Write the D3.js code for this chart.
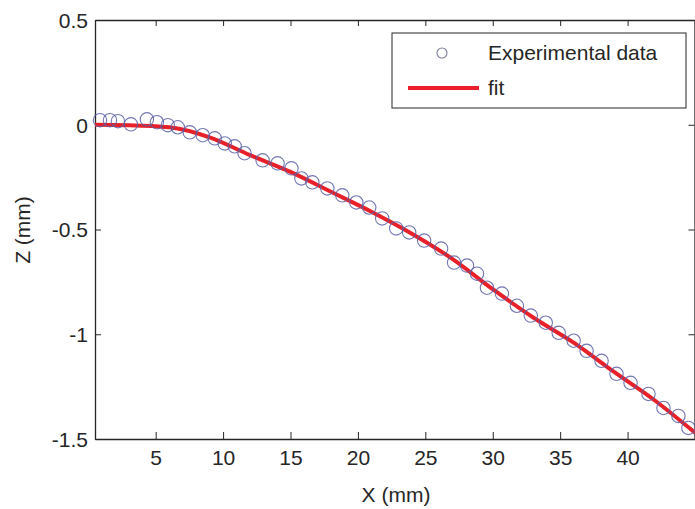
<!DOCTYPE html>
<html>
<head>
<meta charset="utf-8">
<script src="https://cdnjs.cloudflare.com/ajax/libs/d3/7.8.5/d3.min.js"></script>
<style>
  body { margin: 0; background: #fff; }
  svg { font-family: "Liberation Sans", Arial, sans-serif; }
</style>
</head>
<body>
<div id="chart"></div>
<script>
// measured points (X mm, Z mm)
const expX = [0.87, 1.61, 2.20, 3.16, 4.35, 5.09, 5.90, 6.64, 7.53, 8.49, 9.38, 10.12, 10.86, 11.59,
    12.93, 14.04, 15.07, 15.81, 16.62, 17.73, 18.84, 19.88, 20.84, 21.80, 22.84, 23.80, 24.91, 26.17,
    27.13, 28.09, 28.83, 29.57, 30.68, 31.79, 32.82, 33.93, 34.89, 36.00, 36.96, 38.07, 39.18, 40.22,
    41.55, 42.66, 43.77, 44.51]
const expZ = [0.022, 0.022, 0.017, 0.002, 0.026, 0.012, -0.002, -0.012, -0.036, -0.050, -0.065, -0.089,
    -0.103, -0.136, -0.170, -0.184, -0.208, -0.256, -0.275, -0.304, -0.337, -0.371, -0.395, -0.447,
    -0.495, -0.514, -0.553, -0.591, -0.658, -0.672, -0.711, -0.778, -0.806, -0.864, -0.911, -0.945,
    -0.993, -1.031, -1.079, -1.127, -1.189, -1.232, -1.285, -1.352, -1.390, -1.447]

// fitted curve
const fitX = [0.5, 3, 6, 9, 12, 15, 18, 21, 24, 27, 30, 33, 36, 39, 42, 45]
const fitZ = [0.0, -0.002, -0.012, -0.06, -0.145, -0.225, -0.32, -0.415, -0.52, -0.64, -0.785,
    -0.92, -1.04, -1.18, -1.315, -1.47]

const xTicks = [5, 10, 15, 20, 25, 30, 35, 40]
const yTicks = [0.5, 0, -0.5, -1, -1.5]
const legendLabels = ["Experimental data", "fit"]

const width = 695, height = 509
const margin = {top: 20, right: 0, bottom: 70, left: 95}

const svg = d3.select("#chart")
    .append("svg")
    .attr("width", width)
    .attr("height", height)

const x = d3.scaleLinear().domain([0.5, 45]).range([margin.left, width - margin.right])
const y = d3.scaleLinear().domain([-1.5, 0.5]).range([height - margin.bottom, margin.top])

const ink = "#262626"
const fontSize = "21px"

// axes, matlab style ticks pointing inward
const axBottom = svg.append("g")
    .attr("transform", "translate(0," + y(-1.5) + ")")
    .call(d3.axisBottom(x).tickValues(xTicks).tickSizeInner(-7).tickSizeOuter(0).tickPadding(11))
const axTop = svg.append("g")
    .attr("transform", "translate(0," + y(0.5) + ")")
    .call(d3.axisTop(x).tickValues(xTicks).tickSizeInner(-6).tickSizeOuter(0).tickFormat(""))
const axLeft = svg.append("g")
    .attr("transform", "translate(" + x(0.5) + ",0)")
    .call(d3.axisLeft(y).tickValues(yTicks).tickSizeInner(-6).tickSizeOuter(0).tickPadding(7)
        .tickFormat(d => d === 0 ? "0" : String(d)))
const axRight = svg.append("g")
    .attr("transform", "translate(" + (x(45) - 0.5) + ",0)")
    .call(d3.axisRight(y).tickValues(yTicks).tickSizeInner(-6).tickSizeOuter(0).tickFormat(""))

;[axBottom, axTop, axLeft, axRight].forEach(g => {
    g.select(".domain").attr("stroke", ink).attr("stroke-width", 1.3)
    g.selectAll(".tick line").attr("stroke", ink).attr("stroke-width", 1)
    g.selectAll(".tick text").attr("fill", ink).style("font-size", fontSize)
})
axLeft.selectAll(".tick text").attr("dy", "0.35em")

// fit line
const line = d3.line()
    .x(d => x(d[0]))
    .y(d => y(d[1]))
    .curve(d3.curveMonotoneX)

svg.append("path")
    .datum(d3.zip(fitX, fitZ))
    .attr("fill", "none")
    .attr("stroke", "#e8202a")
    .attr("stroke-width", 4)
    .attr("d", line)

// data points
svg.append("g")
    .selectAll("circle")
    .data(d3.zip(expX, expZ))
    .enter()
    .append("circle")
    .attr("cx", d => x(d[0]))
    .attr("cy", d => y(d[1]))
    .attr("r", 6.7)
    .attr("fill", "none")
    .attr("stroke", "#5b5ea6")
    .attr("stroke-opacity", 0.85)
    .attr("stroke-width", 1.1)

// axis labels
svg.append("text")
    .attr("x", 396)
    .attr("y", 502)
    .attr("text-anchor", "middle")
    .attr("fill", ink)
    .style("font-size", fontSize)
    .text("X (mm)")

svg.append("text")
    .attr("transform", "translate(30,230) rotate(-90)")
    .attr("text-anchor", "middle")
    .attr("fill", ink)
    .style("font-size", fontSize)
    .text("Z  (mm)")

// legend
const legend = svg.append("g")
legend.append("rect")
    .attr("x", 392).attr("y", 33)
    .attr("width", 294).attr("height", 75)
    .attr("fill", "#fff")
    .attr("stroke", ink)
    .attr("stroke-width", 1)

legend.append("circle")
    .attr("cx", 442).attr("cy", 53).attr("r", 5)
    .attr("fill", "none")
    .attr("stroke", "#7a7c9a")
    .attr("stroke-width", 1.1)
legend.append("line")
    .attr("x1", 408).attr("x2", 479)
    .attr("y1", 88).attr("y2", 88)
    .attr("stroke", "#e8202a")
    .attr("stroke-width", 4)

legend.selectAll("text.lbl")
    .data(legendLabels)
    .enter()
    .append("text")
    .attr("class", "lbl")
    .attr("x", 488)
    .attr("y", (d, i) => 53 + i * 35)
    .attr("dy", "0.35em")
    .attr("fill", ink)
    .style("font-size", fontSize)
    .text(d => d)
</script>
</body>
</html>
